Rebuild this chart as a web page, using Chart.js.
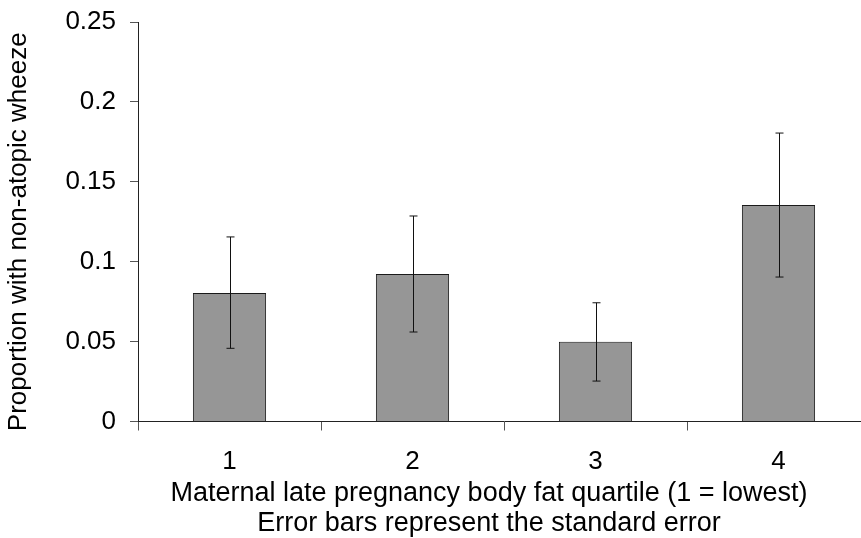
<!DOCTYPE html>
<html>
<head>
<meta charset="utf-8">
<script src="https://cdn.jsdelivr.net/npm/chart.js@4"></script>
<style>
  html, body { margin: 0; padding: 0; background: #fff; overflow: hidden; }
  #wrap { width: 880px; height: 538px; }
</style>
</head>
<body>
<div id="wrap"><canvas id="chart-canvas"></canvas></div>
<script>
// values
const quartiles = ['1', '2', '3', '4'];
const proportions = [0.0804, 0.0923, 0.0499, 0.1355];
const errLow = [0.0458, 0.0560, 0.0253, 0.0904];
const errHigh = [0.1155, 0.1286, 0.0743, 0.1805];
const yTicks = [0, 0.05, 0.1, 0.15, 0.2, 0.25];
const xTitle = ['Maternal late pregnancy body fat quartile (1 = lowest)', 'Error bars represent the standard error'];
const yTitle = 'Proportion with non-atopic wheeze';

const FONT = "'Liberation Sans', Arial, sans-serif";

// draws the standard error whiskers on top of the bars
const errorBars = {
    id: 'errorBars',
    afterDatasetsDraw(chart) {
        let ctx = chart.ctx;
        let yScale = chart.scales.y;
        let meta = chart.getDatasetMeta(0);
        ctx.save();
        ctx.strokeStyle = '#111';
        ctx.lineWidth = 1;
        meta.data.forEach((bar, i) => {
            let x = Math.round(bar.x) + 0.5;
            let top = yScale.getPixelForValue(errHigh[i]);
            let bottom = yScale.getPixelForValue(errLow[i]);
            ctx.beginPath();
            ctx.moveTo(x, top);
            ctx.lineTo(x, bottom);
            ctx.moveTo(x - 4, top);
            ctx.lineTo(x + 4, top);
            ctx.moveTo(x - 4, bottom);
            ctx.lineTo(x + 4, bottom);
            ctx.stroke();
        });
        ctx.restore();
    }
};

// axis titles: the original ones are a bit off-centre, so draw them by hand
const axisTitles = {
    id: 'axisTitles',
    afterDraw(chart) {
        let ctx = chart.ctx;
        let area = chart.chartArea;
        ctx.save();
        ctx.fillStyle = '#000';
        ctx.font = '27px ' + FONT;
        ctx.textAlign = 'center';
        ctx.textBaseline = 'middle';
        xTitle.forEach((line, i) => {
            ctx.fillText(line, area.left + 351, area.bottom + 72 + i * 30);
        });
        ctx.font = '26px ' + FONT;
        ctx.translate(19, (area.top + area.bottom) / 2 + 10);
        ctx.rotate(-Math.PI / 2);
        ctx.fillText(yTitle, 0, 0);
        ctx.restore();
    }
};

let ctx = document.getElementById('chart-canvas').getContext('2d');
let chart = new Chart(ctx, {
    type: 'bar',
    data: {
        labels: quartiles,
        datasets: [{
            data: proportions,
            backgroundColor: '#969696',
            borderColor: '#1a1a1a',
            borderWidth: 1,
            barPercentage: 0.4,
            categoryPercentage: 1
        }]
    },
    options: {
        responsive: true,
        maintainAspectRatio: false,
        animation: false,
        layout: { padding: { top: 22, left: 0, right: 10, bottom: 0 } },
        plugins: {
            legend: { display: false },
            tooltip: { enabled: false }
        },
        scales: {
            x: {
                grid: { offset: true, drawOnChartArea: false, tickLength: 9, color: '#555' },
                border: { color: '#222', width: 1 },
                ticks: { color: '#000', font: { family: FONT, size: 26 }, padding: 16 },
                afterFit(scale) { scale.height = 116.5; }
            },
            y: {
                min: 0,
                max: 0.25,
                afterBuildTicks(scale) { scale.ticks = yTicks.map(v => ({ value: v })); },
                grid: { drawOnChartArea: false, tickLength: 8, color: '#555' },
                border: { color: '#222', width: 1 },
                ticks: {
                    color: '#000',
                    font: { family: FONT, size: 26 },
                    padding: 14,
                    callback: (v) => String(v)
                },
                afterFit(scale) {
                    scale.width = 138;
                    scale.paddingTop = 0;
                    scale.paddingBottom = 0;
                }
            }
        }
    },
    plugins: [errorBars, axisTitles]
});
</script>
</body>
</html>
